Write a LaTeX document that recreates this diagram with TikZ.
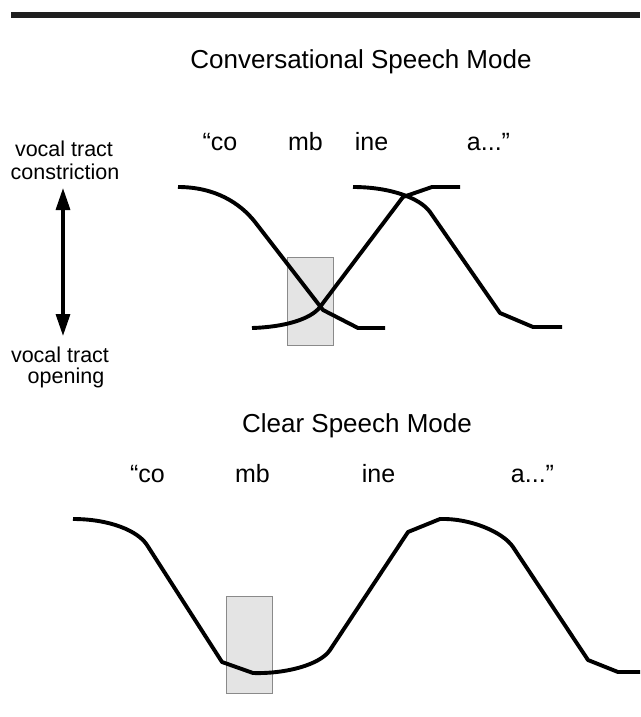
\documentclass[tikz,border=0pt]{standalone}
\usepackage{fontspec}
\setmainfont{Liberation Sans}
\usetikzlibrary{arrows.meta}
\definecolor{winfill}{HTML}{E4E4E4}
\definecolor{winedge}{HTML}{8A8A8A}
\begin{document}
\begin{tikzpicture}[x=1pt,y=-1pt,
  title/.style={font=\fontsize{26}{30}\selectfont, anchor=base, inner sep=0pt},
  word/.style={font=\fontsize{25}{29}\selectfont, anchor=base, inner sep=0pt},
  axislabel/.style={font=\fontsize{21.5}{24}\selectfont, anchor=base, inner sep=0pt},
  gesture/.style={line width=3.9pt, line join=round, line cap=butt},
  window/.style={draw=winedge, fill=winfill, line width=1pt},
  scale arrow/.style={line width=3.3pt, {Triangle[length=22pt,width=14pt]}-{Triangle[length=22pt,width=14pt]}}]
\useasboundingbox (0,0) rectangle (640,717);

% rule across the top
\fill[black!88] (11,12) rectangle (640,18);

% ---------- conversational mode ----------
\node[title] (convtitle) at (361,68) {Conversational Speech Mode};

\node[axislabel] (upA) at (64,156) {vocal tract};
\node[axislabel] (upB) at (65,179) {constriction};
\node[axislabel] (downA) at (60,362) {vocal tract};
\node[axislabel] (downB) at (66,383) {opening};
\coordinate (arrtop) at (63,188);
\coordinate (arrbot) at (63,336);
\draw[scale arrow] (arrtop) -- (arrbot);

\node[word] (cco)  at (220,150) {“co};
\node[word] (cmb)  at (305.5,150) {mb};
\node[word] (cine) at (371.5,150) {ine};
\node[word] (ca)   at (488.5,150) {a...”};

\draw[window] (287,257) rectangle (333,345);

% closing gesture for "co" into "mb"
\draw[gesture] (178,187) .. controls (215,187) and (240,203) .. (255,222)
  -- (323,310) -- (358,328) -- (385,328);
% opening gesture from "mb" into "ine"
\draw[gesture] (252,328) .. controls (285,327) and (311,319) .. (320,307)
  -- (403,197) -- (432,187) -- (460,187);
% closing gesture from "ine" into "a"
\draw[gesture] (353,187) .. controls (390,187) and (420,198) .. (430,212)
  -- (500,313) -- (533,327) -- (562,327);

% ---------- clear mode ----------
\node[title] (cleartitle) at (357,432) {Clear Speech Mode};

\node[word] (kco)  at (147.5,482) {“co};
\node[word] (kmb)  at (252.5,482) {mb};
\node[word] (kine) at (378.5,482) {ine};
\node[word] (ka)   at (532.5,482) {a...”};

\draw[window] (226,596) rectangle (272,693);

\draw[gesture] (73,519) .. controls (110,519) and (138,531) .. (147,545)
  -- (222,662) -- (253,673)
  .. controls (285,674) and (320,665) .. (330,650)
  -- (408,532) -- (440,519)
  .. controls (470,518) and (503,532) .. (513,547)
  -- (588,660) -- (618,672) -- (640,672);
\end{tikzpicture}
\end{document}
